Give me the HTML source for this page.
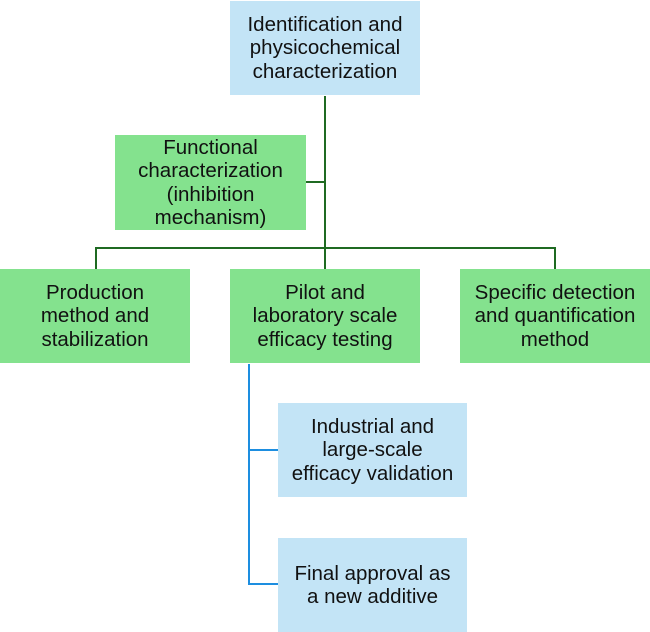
<!DOCTYPE html>
<html><head><meta charset="utf-8"><style>
body{margin:0;width:650px;height:632px;background:#fff;position:relative;overflow:hidden;font-family:"Liberation Sans",Arial,sans-serif;}
.b{position:absolute;display:flex;align-items:center;justify-content:center;text-align:center;font-size:20.5px;line-height:23.5px;color:#111;box-sizing:border-box;}
.bl{background:#c3e4f6;}
.gr{background:#84e28e;}
.l{position:absolute;}
.g{background:#1f6a22;}
.u{background:#1d8ee0;}
</style></head><body>
<div class="b bl" style="left:230px;top:1px;width:190px;height:94px;">Identification and<br>physicochemical<br>characterization</div>
<div class="l g" style="left:324px;top:96px;width:2px;height:173px;"></div>
<div class="b gr" style="left:115px;top:135px;width:191px;height:95px;">Functional<br>characterization<br>(inhibition<br>mechanism)</div>
<div class="l g" style="left:306px;top:181px;width:19px;height:2px;"></div>
<div class="l g" style="left:95px;top:247px;width:461px;height:2px;"></div>
<div class="l g" style="left:95px;top:247px;width:2px;height:22px;"></div>
<div class="l g" style="left:554px;top:247px;width:2px;height:22px;"></div>
<div class="b gr" style="left:0;top:269px;width:190px;height:94px;">Production<br>method and<br>stabilization</div>
<div class="b gr" style="left:230px;top:269px;width:190px;height:94px;">Pilot and<br>laboratory scale<br>efficacy testing</div>
<div class="b gr" style="left:460px;top:269px;width:190px;height:94px;">Specific detection<br>and quantification<br>method</div>
<div class="l u" style="left:248px;top:364px;width:2px;height:221px;"></div>
<div class="l u" style="left:248px;top:449px;width:30px;height:2px;"></div>
<div class="l u" style="left:248px;top:583px;width:30px;height:2px;"></div>
<div class="b bl" style="left:278px;top:403px;width:189px;height:94px;">Industrial and<br>large-scale<br>efficacy validation</div>
<div class="b bl" style="left:278px;top:538px;width:189px;height:94px;">Final approval as<br>a new additive</div>
</body></html>
